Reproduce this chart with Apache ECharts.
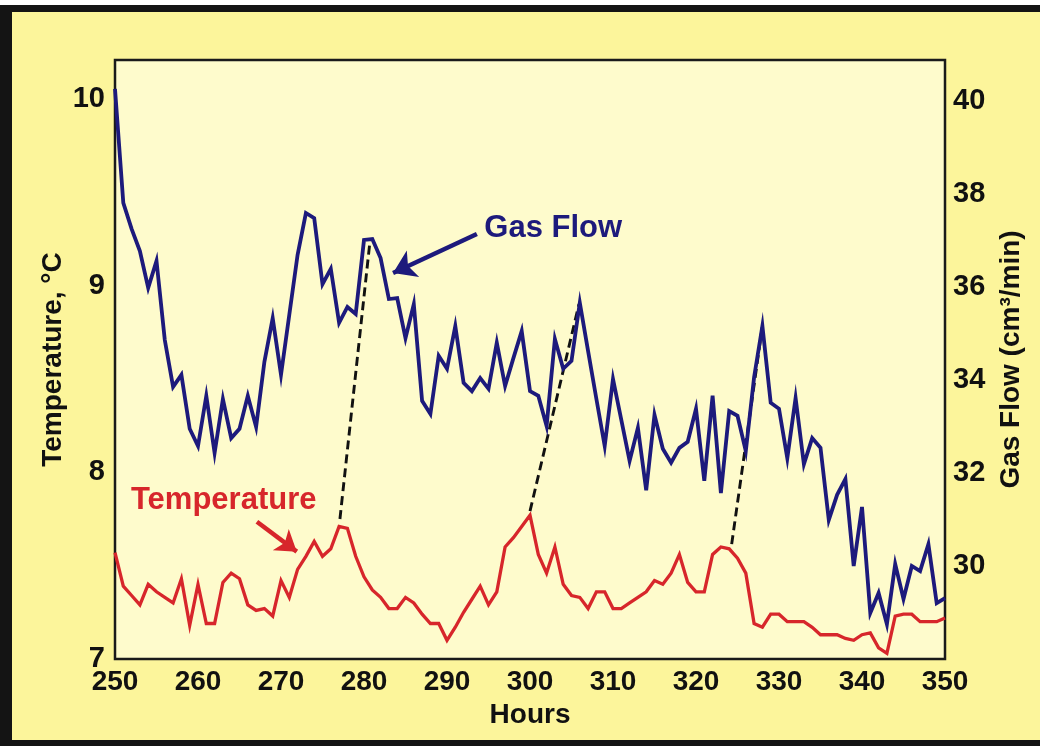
<!DOCTYPE html>
<html>
<head>
<meta charset="utf-8">
<script src="https://cdn.jsdelivr.net/npm/echarts@6/dist/echarts.min.js"></script>
<style>
html,body{margin:0;padding:0;background:#fff;}
#c{width:1040px;height:746px;}
</style>
</head>
<body>
<div id="c"></div>
<script>
const hours = [250,251,252,253,254,255,256,257,258,259,260,261,262,263,264,265,266,267,268,269,
270,271,272,273,274,275,276,277,278,279,280,281,282,283,284,285,286,287,288,289,
290,291,292,293,294,295,296,297,298,299,300,301,302,303,304,305,306,307,308,309,
310,311,312,313,314,315,316,317,318,319,320,321,322,323,324,325,326,327,328,329,
330,331,332,333,334,335,336,337,338,339,340,341,342,343,344,345,346,347,348,349,350];

const gasFlow = [40.26,37.81,37.25,36.77,35.98,36.56,34.86,33.85,34.11,32.95,
32.58,33.66,32.43,33.59,32.75,32.95,33.66,32.99,34.39,35.33,
34.11,35.40,36.69,37.59,37.48,36.06,36.39,35.23,35.57,35.42,
37.01,37.03,36.62,35.74,35.76,34.90,35.63,33.55,33.27,34.52,
34.24,35.16,33.94,33.76,34.04,33.81,34.80,33.87,34.47,35.05,
33.76,33.66,33.01,34.88,34.24,34.41,35.66,34.62,33.59,32.58,
34.02,33.14,32.26,32.97,31.63,33.25,32.52,32.22,32.54,32.67,
33.38,31.83,33.66,31.57,33.33,33.23,32.47,34.06,35.16,33.51,
33.38,32.32,33.61,32.19,32.75,32.54,30.99,31.53,31.87,30.00,
31.27,28.99,29.42,28.75,30.04,29.29,30.00,29.89,30.47,29.20,29.31];

const temperature = [7.57,7.39,7.34,7.29,7.40,7.36,7.33,7.30,7.43,7.18,
7.40,7.19,7.19,7.41,7.46,7.43,7.29,7.26,7.27,7.23,
7.42,7.33,7.48,7.55,7.63,7.55,7.59,7.71,7.70,7.55,
7.44,7.37,7.33,7.27,7.27,7.33,7.30,7.24,7.19,7.19,
7.10,7.17,7.25,7.32,7.39,7.29,7.36,7.60,7.65,7.71,
7.77,7.56,7.46,7.60,7.40,7.34,7.33,7.27,7.36,7.36,
7.27,7.27,7.30,7.33,7.36,7.42,7.40,7.46,7.56,7.41,
7.36,7.36,7.56,7.60,7.59,7.54,7.46,7.19,7.17,7.24,
7.24,7.20,7.20,7.20,7.17,7.13,7.13,7.13,7.11,7.10,
7.13,7.14,7.06,7.03,7.23,7.24,7.24,7.20,7.20,7.20,7.22];

// lag connectors: [hour, gas flow] start (temperature peak) -> end (gas flow peak)
const lagLines = [
  [[277.1, 31.01], [280.7, 36.95]],
  [[300.0, 31.18], [305.9, 35.63]],
  [[324.3, 30.47], [328.0, 35.16]]
];

const xTicks = [250, 260, 270, 280, 290, 300, 310, 320, 330, 340, 350];
const tempTicks = [7, 8, 9, 10];
const gasTicks = [30, 32, 34, 36, 38, 40];

// annotations
const gasLabel = {text: 'Gas Flow', at: [302.8, 37.25]};
const gasArrow = [[293.6, 37.14], [283.5, 36.30]];
const tempLabel = {text: 'Temperature', at: [263.1, 7.85]};
const tempArrow = [[267.1, 7.735], [271.9, 7.575]];

const BLUE = '#1d1a7c';
const RED = '#d7262b';
const mainFont = "'Liberation Sans', Arial, Helvetica, sans-serif";

const chart = echarts.init(document.getElementById('c'), null, {renderer: 'canvas'});

const pair = (a, b) => a.map((v, i) => [v, b[i]]);

const series = [
  {
    name: 'Gas Flow', type: 'line', xAxisIndex: 0, yAxisIndex: 1,
    data: pair(hours, gasFlow), symbol: 'none', z: 5,
    lineStyle: {color: BLUE, width: 3.8, join: 'miter', miterLimit: 8},
    silent: true, animation: false
  },
  {
    name: 'Temperature', type: 'line', xAxisIndex: 0, yAxisIndex: 0,
    data: pair(hours, temperature), symbol: 'none', z: 5,
    lineStyle: {color: RED, width: 3.3, join: 'miter', miterLimit: 8},
    silent: true, animation: false
  }
];

lagLines.forEach(seg => series.push({
  type: 'line', xAxisIndex: 0, yAxisIndex: 1, data: seg, symbol: 'none', z: 4,
  lineStyle: {color: '#111', width: 2.9, type: [9, 5]}, silent: true, animation: false
}));

series.push({
  type: 'lines', coordinateSystem: 'cartesian2d', xAxisIndex: 0, yAxisIndex: 1,
  data: [{coords: gasArrow}], symbol: ['none', 'arrow'], symbolSize: [20, 22],
  lineStyle: {color: BLUE, width: 4.5, opacity: 1}, silent: true, animation: false, z: 6
});
series.push({
  type: 'lines', coordinateSystem: 'cartesian2d', xAxisIndex: 0, yAxisIndex: 0,
  data: [{coords: tempArrow}], symbol: ['none', 'arrow'], symbolSize: [18, 20],
  lineStyle: {color: RED, width: 4.5, opacity: 1}, silent: true, animation: false, z: 6
});
series.push({
  type: 'scatter', xAxisIndex: 0, yAxisIndex: 1, data: [gasLabel.at], symbolSize: 1,
  itemStyle: {color: 'rgba(0,0,0,0)', opacity: 1}, silent: true, animation: false, z: 7,
  label: {show: true, position: 'inside', formatter: gasLabel.text, color: BLUE, opacity: 1,
    textBorderWidth: 0, fontFamily: mainFont, fontWeight: 'bold', fontSize: 31}
});
series.push({
  type: 'scatter', xAxisIndex: 0, yAxisIndex: 0, data: [tempLabel.at], symbolSize: 1,
  itemStyle: {color: 'rgba(0,0,0,0)', opacity: 1}, silent: true, animation: false, z: 7,
  label: {show: true, position: 'inside', formatter: tempLabel.text, color: RED, opacity: 1,
    textBorderWidth: 0, fontFamily: mainFont, fontWeight: 'bold', fontSize: 31}
});

const near = (v, list) => list.some(t => Math.abs(t - v) < 1e-6);

chart.setOption({
  animation: false,
  backgroundColor: '#fcf59b',
  graphic: [
    {type: 'rect', shape: {x: 0, y: 0, width: 1040, height: 5}, style: {fill: '#ffffff'}, z: 100},
    {type: 'rect', shape: {x: 0, y: 5, width: 1040, height: 7}, style: {fill: '#141414'}, z: 100},
    {type: 'rect', shape: {x: 0, y: 5, width: 12, height: 741}, style: {fill: '#141414'}, z: 100},
    {type: 'rect', shape: {x: 0, y: 740, width: 1040, height: 6}, style: {fill: '#141414'}, z: 100}
  ],
  grid: {
    left: 115, right: 95, top: 60, bottom: 87,
    show: true, backgroundColor: '#fefbcc', borderColor: '#1a1a1a', borderWidth: 2.5
  },
  xAxis: [{
    type: 'value', min: 250, max: 350, interval: 10,
    name: 'Hours', nameLocation: 'middle', nameGap: 36,
    nameTextStyle: {color: '#111', fontFamily: mainFont, fontWeight: 'bold', fontSize: 28},
    axisLine: {show: false}, axisTick: {show: false}, splitLine: {show: false},
    axisLabel: {margin: 9, color: '#111', fontFamily: mainFont, fontWeight: 'bold', fontSize: 28,
      formatter: v => near(v, xTicks) ? String(v) : ''}
  }],
  yAxis: [
    {
      type: 'value', position: 'left', min: 7, max: 10.208, interval: 1,
      name: 'Temperature, °C', nameLocation: 'middle', nameRotate: 90, nameGap: 48,
      nameMoveOverlap: false,
      nameTextStyle: {color: '#111', fontFamily: mainFont, fontWeight: 'bold', fontSize: 28},
      axisLine: {show: false}, axisTick: {show: false}, splitLine: {show: false},
      axisLabel: {margin: 10, color: '#111', fontFamily: mainFont, fontWeight: 'bold', fontSize: 29,
        formatter: v => near(v, tempTicks) ? String(v) : ''}
    },
    {
      type: 'value', position: 'right', min: 28, max: 40.88, interval: 2,
      name: 'Gas Flow (cm³/min)', nameLocation: 'middle', nameRotate: 90, nameGap: 52,
      nameTextStyle: {color: '#111', fontFamily: mainFont, fontWeight: 'bold', fontSize: 28},
      axisLine: {show: false}, axisTick: {show: false}, splitLine: {show: false},
      axisLabel: {margin: 8, color: '#111', fontFamily: mainFont, fontWeight: 'bold', fontSize: 29,
        formatter: v => near(v, gasTicks) ? String(v) : ''}
    }
  ],
  series: series
});
</script>
</body>
</html>
